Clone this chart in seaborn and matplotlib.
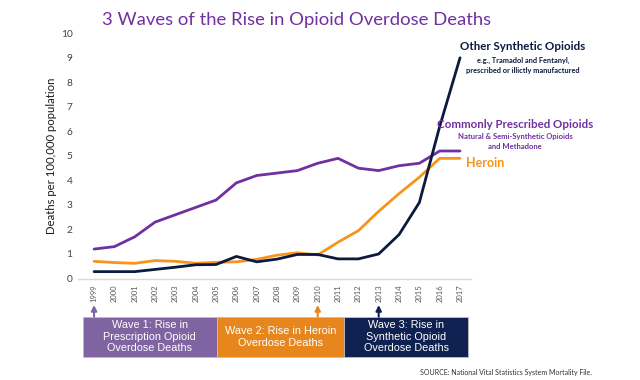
import pandas as pd
import matplotlib.pyplot as plt
import matplotlib.transforms as mtransforms
import seaborn as sns

# values (deaths per 100,000)
years = list(range(1999, 2018))
prescribed = [1.2, 1.3, 1.7, 2.3, 2.6, 2.9, 3.2, 3.9, 4.2, 4.3, 4.4, 4.7, 4.9, 4.5, 4.4, 4.6, 4.7, 5.2, 5.2]
heroin = [0.7, 0.65, 0.62, 0.73, 0.7, 0.62, 0.66, 0.68, 0.78, 0.95, 1.05, 0.96, 1.48, 1.95, 2.74, 3.46, 4.13, 4.9, 4.9]
synthetic = [0.28, 0.28, 0.28, 0.37, 0.46, 0.56, 0.57, 0.9, 0.68, 0.79, 0.98, 0.98, 0.8, 0.8, 1.0, 1.79, 3.1, 6.2, 9.0]

# the three waves under the axis
wave_labels = ['Wave 1: Rise in\nPrescription Opioid\nOverdose Deaths',
               'Wave 2: Rise in Heroin\nOverdose Deaths',
               'Wave 3: Rise in\nSynthetic Opioid\nOverdose Deaths']
wave_starts = [1998.45, 2005.03, 2011.3]
wave_ends = [2005.03, 2011.3, 2017.4]
wave_arrow_years = [1999, 2010, 2013]

purple = '#7030A0'
orange = '#F7941D'
navy = '#0B1A3E'
box_colors = ['#8064A2', '#E8861E', '#0F2150']

df = pd.DataFrame({'Year': years * 3,
                   'Rate': prescribed + heroin + synthetic,
                   'Type': ['Prescribed'] * 19 + ['Heroin'] * 19 + ['Synthetic'] * 19})

sns.set_theme(style='white')
plt.rcParams['font.family'] = ['Lato', 'DejaVu Sans']

fig = plt.figure(figsize=(6.4, 3.8), dpi=100)
ax = fig.add_axes([78 / 640, 1 - 278.5 / 380, (471 - 78) / 640, (278.5 - 33.3) / 380])

sns.lineplot(data=df, x='Year', y='Rate', hue='Type',
             palette={'Prescribed': purple, 'Heroin': orange, 'Synthetic': navy},
             linewidth=2.0, legend=False, ax=ax)

ax.set_xlim(1998.21, 2017.54)
ax.set_ylim(0, 10)
ax.set_yticks(range(0, 11))
ax.set_xticks(years)
ax.set_xticklabels([str(y) for y in years], rotation=90, fontsize=5.5, color='#595959')
ax.tick_params(axis='y', labelsize=7.3, colors='#404040', length=0, pad=4)
ax.tick_params(axis='x', length=0, pad=4)
ax.set_xlabel('')
ax.set_ylabel('Deaths per 100,000 population', fontsize=8.2, color='#1a1a1a', labelpad=3)
for s in ['top', 'right', 'left']:
    ax.spines[s].set_visible(False)
ax.spines['bottom'].set_color('#D9D9D9')
ax.spines['bottom'].set_linewidth(1)
ax.grid(False)

# title
fig.text(297 / 640, 1 - 20 / 380, '3 Waves of the Rise in Opioid Overdose Deaths',
         ha='center', va='center', fontsize=13.3, color=purple)

# line annotations on the right
fig.text(523 / 640, 1 - 47 / 380, 'Other Synthetic Opioids', ha='center', va='center',
         fontsize=8.3, fontweight='bold', color=navy)
fig.text(523 / 640, 1 - 65.5 / 380, 'e.g., Tramadol and Fentanyl,\nprescribed or illictly manufactured',
         ha='center', va='center', fontsize=5.3, fontweight='bold', color=navy, linespacing=1.45)
fig.text(515 / 640, 1 - 124 / 380, 'Commonly Prescribed Opioids', ha='center', va='center',
         fontsize=8.3, fontweight='bold', color=purple)
fig.text(515 / 640, 1 - 141.5 / 380, 'Natural & Semi-Synthetic Opioids\nand Methadone',
         ha='center', va='center', fontsize=5.5, fontweight='bold', color=purple, linespacing=1.45)
fig.text(466 / 640, 1 - 163 / 380, 'Heroin', ha='left', va='center',
         fontsize=9, fontweight='bold', color=orange)

# wave boxes and arrows below the axis
trans = mtransforms.blended_transform_factory(ax.transData, fig.transFigure)
box_top = 1 - 316.7 / 380
box_bottom = 1 - 356.7 / 380
for label, x0, x1, col, ay in zip(wave_labels, wave_starts, wave_ends, box_colors, wave_arrow_years):
    rect = plt.Rectangle((x0, box_bottom), x1 - x0, box_top - box_bottom, transform=trans,
                         facecolor=col, edgecolor='#BFBFBF', linewidth=0.6, clip_on=False)
    ax.add_patch(rect)
    ax.text((x0 + x1) / 2, (box_top + box_bottom) / 2, label, transform=trans,
            ha='center', va='center', color='white', fontsize=7.8,
            family=['Liberation Sans', 'DejaVu Sans'], linespacing=1.2)
    ax.annotate('', xy=(ay, 1 - 305 / 380), xytext=(ay, box_top), xycoords=trans, textcoords=trans,
                arrowprops=dict(arrowstyle='-|>', color=col, lw=1.5, mutation_scale=8,
                                shrinkA=0, shrinkB=0),
                annotation_clip=False)

fig.text(592 / 640, 1 - 373 / 380, 'SOURCE: National Vital Statistics System Mortality File.',
         ha='right', va='center', fontsize=5, color='#333333')

fig.savefig('out.png', dpi=100)
